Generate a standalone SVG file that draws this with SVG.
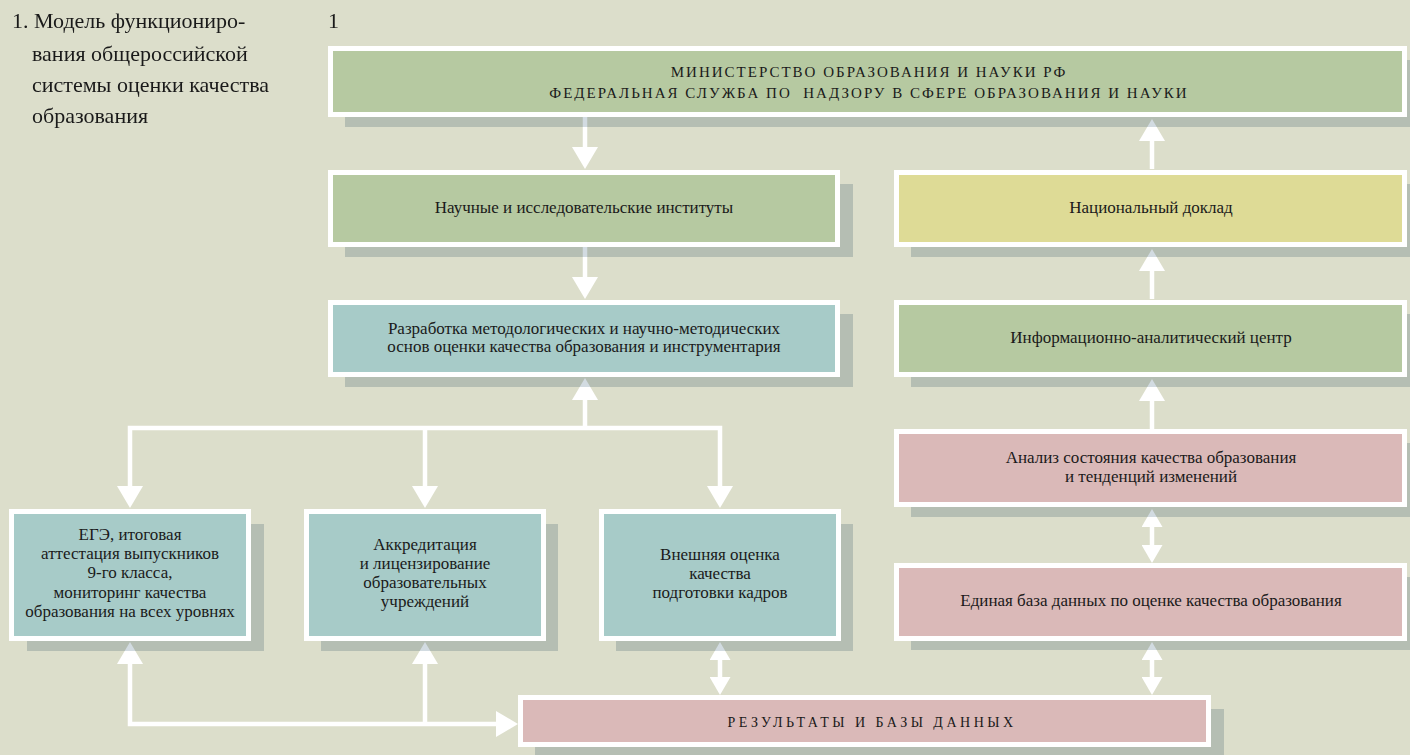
<svg xmlns="http://www.w3.org/2000/svg" width="1410" height="755" viewBox="0 0 1410 755">
<defs>
<style>
.bg{fill:#dcdecb}
.sh{fill:#d2dbe1;mix-blend-mode:multiply}
.box{stroke:#ffffff;stroke-width:5}
.g{fill:#b6c9a1}
.y{fill:#dedb96}
.t{fill:#a7cbc8}
.p{fill:#dab9b8}
.ln{fill:none;stroke:#ffffff;stroke-width:4.5;stroke-linejoin:miter}
.tx{font-family:"Liberation Serif","Times New Roman",serif;font-size:17px;fill:#1a1a1a;text-anchor:middle}
.cap{font-family:"Liberation Serif","Times New Roman",serif;font-size:15px;fill:#1a1a1a;text-anchor:middle;letter-spacing:2px;white-space:pre}
.ttl{font-family:"Liberation Serif","Times New Roman",serif;font-size:22px;fill:#1a1a1a}
</style>
<marker id="big" markerUnits="userSpaceOnUse" viewBox="0 0 22 26" markerWidth="22" markerHeight="26" refX="0" refY="13" orient="auto-start-reverse">
<path d="M0,0 L22,13 L0,26 Z" fill="#ffffff"/>
</marker>
<marker id="sm" markerUnits="userSpaceOnUse" viewBox="0 0 18 21" markerWidth="18" markerHeight="21" refX="0" refY="10.5" orient="auto-start-reverse">
<path d="M0,0 L18,10.5 L0,21 Z" fill="#ffffff"/>
</marker>
</defs>
<rect class="bg" x="0" y="0" width="1410" height="755"/>

<g id="caption">
<text class="ttl" x="12" y="28">1. Модель функциониро-</text>
<text class="ttl" x="32" y="61">вания общероссийской</text>
<text class="ttl" x="32" y="92">системы оценки качества</text>
<text class="ttl" x="32" y="123">образования</text>
<text class="ttl" x="328" y="28">1</text>
</g>

<g id="connectors">
<path class="ln" d="M585,117 V147" marker-end="url(#big)"/>
<path class="ln" d="M585,247 V277" marker-end="url(#big)"/>
<path class="ln" d="M585,428 V400" marker-end="url(#big)"/>
<path class="ln" d="M130,486 V428 H720 V486" marker-start="url(#big)" marker-end="url(#big)"/>
<path class="ln" d="M425,428 V486" marker-end="url(#big)"/>
<path class="ln" d="M130,664 V724 H496" marker-start="url(#big)" marker-end="url(#big)"/>
<path class="ln" d="M425,664 V724" marker-start="url(#big)"/>
<path class="ln" d="M720,660 V677" marker-start="url(#sm)" marker-end="url(#sm)"/>
<path class="ln" d="M1152,169 V141" marker-end="url(#big)"/>
<path class="ln" d="M1152,299 V271" marker-end="url(#big)"/>
<path class="ln" d="M1152,429 V401" marker-end="url(#big)"/>
<path class="ln" d="M1152,527 V545" marker-start="url(#sm)" marker-end="url(#sm)"/>
<path class="ln" d="M1152,660 V677" marker-start="url(#sm)" marker-end="url(#sm)"/>
</g>

<g id="ministry">
<rect class="sh" x="345" y="60" width="1075" height="67"/>
<rect class="box g" x="330.5" y="48.5" width="1074" height="66"/>
<text class="cap" x="869" y="77">МИНИСТЕРСТВО ОБРАЗОВАНИЯ И НАУКИ РФ</text>
<text class="cap" x="869" y="98">ФЕДЕРАЛЬНАЯ СЛУЖБА ПО  НАДЗОРУ В СФЕРЕ ОБРАЗОВАНИЯ И НАУКИ</text>
</g>

<g id="institutes">
<rect class="sh" x="345" y="184" width="508" height="73"/>
<rect class="box g" x="330.5" y="172.5" width="507" height="72"/>
<text class="tx" x="584" y="213">Научные и исследовательские институты</text>
</g>

<g id="report">
<rect class="sh" x="911" y="184" width="509" height="73"/>
<rect class="box y" x="896.5" y="172.5" width="508" height="72"/>
<text class="tx" x="1151" y="213">Национальный доклад</text>
</g>

<g id="methods">
<rect class="sh" x="345" y="314" width="508" height="73"/>
<rect class="box t" x="330.5" y="302.5" width="507" height="72"/>
<text class="tx" x="584" y="334">Разработка методологических и научно-методических</text>
<text class="tx" x="584" y="352">основ оценки качества образования и инструментария</text>
</g>

<g id="center">
<rect class="sh" x="911" y="314" width="509" height="73"/>
<rect class="box g" x="896.5" y="302.5" width="508" height="72"/>
<text class="tx" x="1151" y="343">Информационно-аналитический центр</text>
</g>

<g id="analysis">
<rect class="sh" x="911" y="443" width="509" height="74"/>
<rect class="box p" x="896.5" y="431.5" width="508" height="73"/>
<text class="tx" x="1151" y="463">Анализ состояния качества образования</text>
<text class="tx" x="1151" y="482">и тенденций изменений</text>
</g>

<g id="database">
<rect class="sh" x="911" y="577" width="509" height="73"/>
<rect class="box p" x="896.5" y="565.5" width="508" height="73"/>
<text class="tx" x="1151" y="606">Единая база данных по оценке качества образования</text>
</g>

<g id="ege">
<rect class="sh" x="27" y="524" width="237" height="127"/>
<rect class="box t" x="11.5" y="511.5" width="237" height="127"/>
<text class="tx" x="130" y="540">ЕГЭ, итоговая</text>
<text class="tx" x="130" y="559">аттестация выпускников</text>
<text class="tx" x="130" y="578">9-го класса,</text>
<text class="tx" x="130" y="598">мониторинг качества</text>
<text class="tx" x="130" y="617">образования на всех уровнях</text>
</g>

<g id="accreditation">
<rect class="sh" x="321" y="524" width="237" height="127"/>
<rect class="box t" x="306.5" y="511.5" width="237" height="127"/>
<text class="tx" x="425" y="550">Аккредитация</text>
<text class="tx" x="425" y="569">и лицензирование</text>
<text class="tx" x="425" y="588">образовательных</text>
<text class="tx" x="425" y="607">учреждений</text>
</g>

<g id="external">
<rect class="sh" x="616" y="524" width="237" height="127"/>
<rect class="box t" x="601.5" y="511.5" width="237" height="127"/>
<text class="tx" x="720" y="560">Внешняя оценка</text>
<text class="tx" x="720" y="579">качества</text>
<text class="tx" x="720" y="598">подготовки кадров</text>
</g>

<g id="results">
<rect class="sh" x="535" y="709" width="689" height="50"/>
<rect class="box p" x="520.5" y="697.5" width="688" height="47"/>
<text class="cap" x="872" y="727" style="font-size:14px;letter-spacing:3.5px">РЕЗУЛЬТАТЫ И БАЗЫ ДАННЫХ</text>
</g>
</svg>
